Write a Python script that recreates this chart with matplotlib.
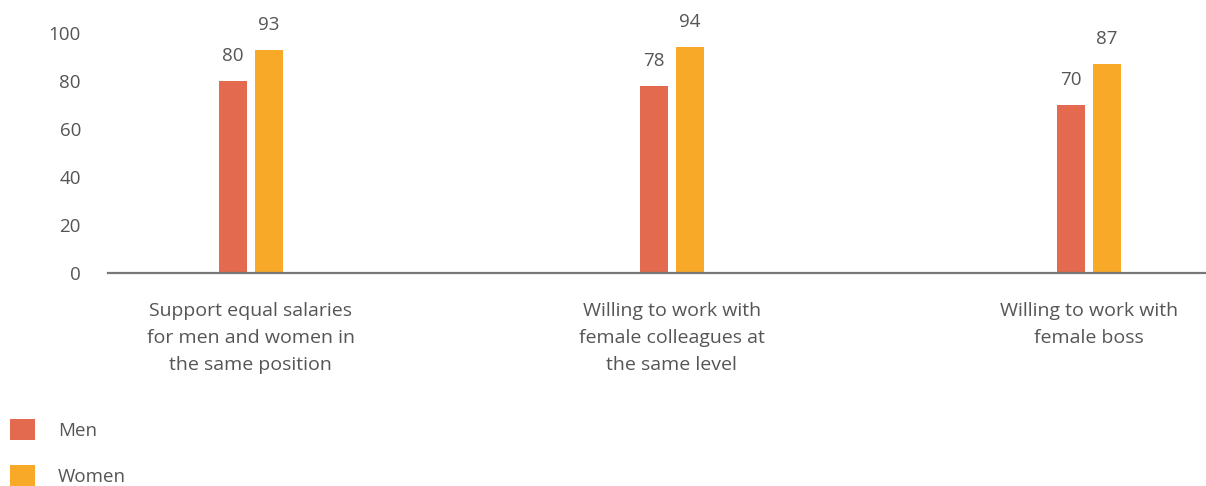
import numpy as np
import matplotlib
matplotlib.use("Agg")
import matplotlib.pyplot as plt

categories = [
    "Support equal salaries\nfor men and women in\nthe same position",
    "Willing to work with\nfemale colleagues at\nthe same level",
    "Willing to work with\nfemale boss",
]
men = [80, 78, 70]
women = [93, 94, 87]
yticks = [0, 20, 40, 60, 80, 100]

MEN_COLOR = "#E36A4E"
WOMEN_COLOR = "#F9A928"
TEXT_COLOR = "#555555"

plt.rcParams["font.family"] = ["Open Sans", "DejaVu Sans"]

fig = plt.figure(figsize=(12.06, 4.86), dpi=100)
ax = fig.add_axes([0.0896, 0.4383, 0.9104, 0.4938])

x = np.array([0, 1.005, 2.0])
width = 0.067
offset = 0.043

b1 = ax.bar(x - offset, men, width, color=MEN_COLOR, label="Men")
b2 = ax.bar(x + offset, women, width, color=WOMEN_COLOR, label="Women")

for bars in (b1, b2):
    for rect in bars:
        h = rect.get_height()
        ax.annotate(f"{h:.0f}", (rect.get_x() + rect.get_width() / 2, h),
                    xytext=(0, 11.5), textcoords="offset points",
                    ha="center", va="bottom", fontsize=13.5,
                    color=TEXT_COLOR, annotation_clip=False)

ax.set_xlim(-0.341, 2.28)
ax.set_ylim(0, 100)
ax.set_yticks(yticks)
ax.set_yticklabels([str(v) for v in yticks], fontsize=13.5, color=TEXT_COLOR)
ax.tick_params(axis="y", length=0, pad=19.5)

ax.set_xticks(x)
ax.set_xticklabels(categories, fontsize=14, color=TEXT_COLOR, linespacing=1.62)
ax.tick_params(axis="x", length=0, pad=21)

for side in ("top", "right", "left"):
    ax.spines[side].set_visible(False)
ax.spines["bottom"].set_color("#777777")
ax.spines["bottom"].set_linewidth(1.6)

fig.legend(handles=[b1, b2], loc="upper left", bbox_to_anchor=(10 / 1206, 0.138),
           frameon=False, fontsize=13.5, handlelength=1.33, handleheight=1.33,
           handletextpad=1.23, labelspacing=1.35, borderaxespad=0, borderpad=0,
           labelcolor=TEXT_COLOR)

fig.savefig("out.png", dpi=100)
